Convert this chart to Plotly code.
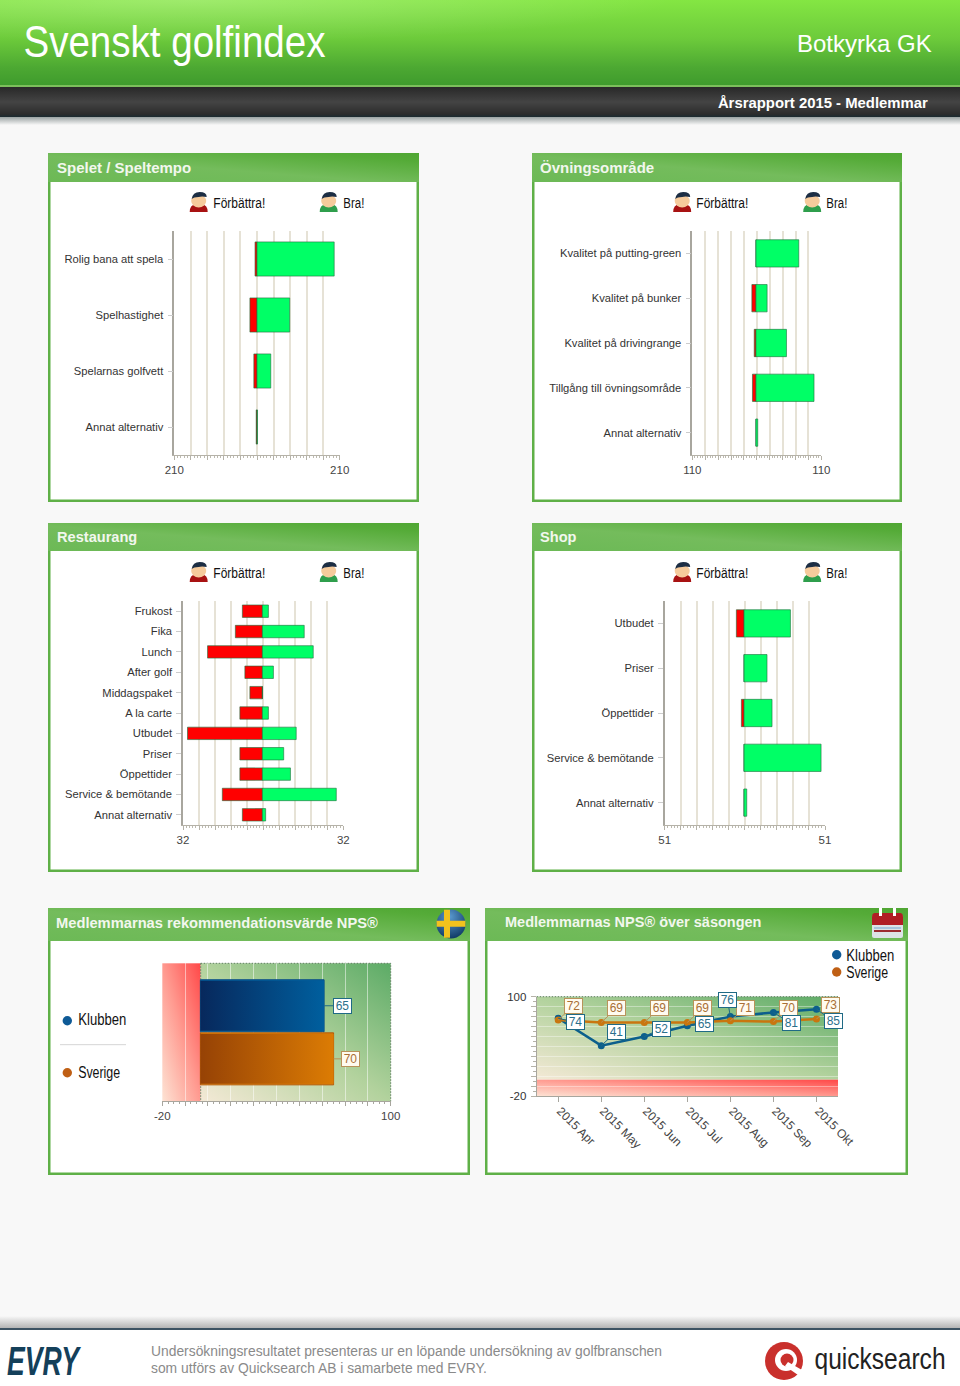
"""Svenskt golfindex, annual report page for one club."""

import base64
import json

import numpy as np
import plotly.graph_objects as go

W, H = 960, 1386

SANS = "Liberation Sans"

# Top left: Spelet / Speltempo
spel_cats = ["Rolig bana att spela", "Spelhastighet", "Spelarnas golfvett", "Annat alternativ"]
spel_bad = [5, 18, 8, 2]
spel_good = [196, 83, 35, 1]

# Top right: Övningsområde
ovning_cats = [
    "Kvalitet på putting-green",
    "Kvalitet på bunker",
    "Kvalitet på drivingrange",
    "Tillgång till övningsområde",
    "Annat alternativ",
]
ovning_bad = [0, 7, 3, 6, 0]
ovning_good = [73, 19, 52, 99, 3]

# Restaurang
rest_cats = [
    "Frukost",
    "Fika",
    "Lunch",
    "After golf",
    "Middagspaket",
    "A la carte",
    "Utbudet",
    "Priser",
    "Öppettider",
    "Service & bemötande",
    "Annat alternativ",
]
rest_bad = [8, 10.8, 21.9, 7, 5, 9, 29.9, 9, 9, 16, 8]
rest_good = [2.4, 16.7, 20.3, 4.4, 0, 2.4, 13.5, 8.5, 11.2, 29.5, 1.3]

# Shop
shop_cats = ["Utbudet", "Priser", "Öppettider", "Service & bemötande", "Annat alternativ"]
shop_bad = [4.9, 0, 1.7, 0, 0]
shop_good = [29.5, 14.6, 17.8, 49, 1.7]

# NPS
nps_names = ["Klubben", "Sverige"]
nps_values = [65, 70]

# NPS per month
months = ["2015 Apr", "2015 May", "2015 Jun", "2015 Jul", "2015 Aug", "2015 Sep", "2015 Okt"]
klubben = [74, 41, 52, 65, 76, 81, 85]
sverige = [72, 69, 69, 69, 71, 70, 73]

# Where the value boxes sit relative to their points, in pixels
klubben_offsets = [(17, 4), (15, -14), (17, -8), (17, -2), (-3, -17), (18, 11), (17, 12)]
sverige_offsets = [(15, -14), (15, -14), (15, -14), (15, -14), (15, -13), (15, -14), (14, -14)]

# The original uses a condensed face, none is installed, so these get squeezed to width
squeezed = {
    "Svenskt golfindex": 302,
    "<b>Årsrapport 2015 - Medlemmar</b>": 210,
    "Klubben": 48,
    "Sverige": 42,
    "Förbättra!": 52,
    "Bra!": 21,
    "<b><i>EVRY</i></b>": 72,
    "quicksearch": 131,
}

BLUE = "#0c5f8c"
ORANGE = "#c9760f"
BOX_BLUE = "#1f6a85"
BOX_TAN = "#b8935a"


def px(x):
    return x / W


def py(y):
    return 1 - y / H


def panel(x0, y0, x1, y1, header_bottom):
    return (
        f'<rect x="{x0}" y="{y0}" width="{x1 - x0}" height="{y1 - y0}" fill="#fff"/>'
        f'<rect x="{x0 + 1.25}" y="{y0 + 1.25}" width="{x1 - x0 - 2.5}" height="{y1 - y0 - 2.5}" '
        'fill="none" stroke="#5fb047" stroke-width="2.5"/>'
        f'<rect x="{x0}" y="{y0}" width="{x1 - x0}" height="{header_bottom - y0}" fill="url(#hdr)"/>'
    )


def person(cx, cy, shirt):
    return (
        f'<path d="M{cx - 9} {cy + 10} q0 -7 6 -8 h6 q6 1 6 8 z" fill="{shirt}"/>'
        f'<ellipse cx="{cx}" cy="{cy - 1}" rx="7.5" ry="6.5" fill="#f6cb9c"/>'
        f'<path d="M{cx - 7} {cy - 3} q1 -7 8 -7 q7 0 7 5 q-5 -1 -8 0 q-5 0 -7 2 z" fill="#1d2e44"/>'
    )


def faces(dx, dy):
    return person(198.7 + dx, 202 + dy, "#a81212") + person(328.7 + dx, 202 + dy, "#2f9e4c")


chrome = f"""<svg xmlns="http://www.w3.org/2000/svg" width="{W}" height="{H}" viewBox="0 0 {W} {H}">
<defs>
<linearGradient id="top" x1="0" y1="0" x2="0" y2="1">
<stop offset="0" stop-color="#84e643"/><stop offset=".45" stop-color="#6dcb3b"/>
<stop offset=".8" stop-color="#4ca832"/><stop offset="1" stop-color="#3f9b2d"/></linearGradient>
<radialGradient id="spot" cx=".2" cy="0" r=".5">
<stop offset="0" stop-color="#fff" stop-opacity=".22"/><stop offset="1" stop-color="#fff" stop-opacity="0"/></radialGradient>
<linearGradient id="dark" x1="0" y1="0" x2="0" y2="1">
<stop offset="0" stop-color="#282828"/><stop offset=".5" stop-color="#444"/>
<stop offset=".9" stop-color="#2c2c2c"/><stop offset="1" stop-color="#1a2a30"/></linearGradient>
<linearGradient id="shade" x1="0" y1="0" x2="0" y2="1">
<stop offset="0" stop-color="#9aa2a2"/><stop offset="1" stop-color="#f8f8f8"/></linearGradient>
<linearGradient id="foot" x1="0" y1="0" x2="0" y2="1">
<stop offset="0" stop-color="#f8f8f8"/><stop offset="1" stop-color="#b4b4b4"/></linearGradient>
<linearGradient id="hdr" x1="0" y1="1" x2="1" y2="0">
<stop offset="0" stop-color="#6cb956"/><stop offset=".45" stop-color="#74bc5c"/>
<stop offset=".85" stop-color="#55ab38"/><stop offset="1" stop-color="#4fa633"/></linearGradient>
<linearGradient id="zoneg" x1="0" y1="1" x2="1" y2="0">
<stop offset="0" stop-color="#f4e9d6"/><stop offset=".5" stop-color="#b2d29d"/><stop offset="1" stop-color="#5cab66"/></linearGradient>
<linearGradient id="zoner" x1="0" y1="1" x2="1" y2="0">
<stop offset="0" stop-color="#fde3d4"/><stop offset=".5" stop-color="#ff9a90"/><stop offset="1" stop-color="#ff4848"/></linearGradient>
<radialGradient id="ball" cx=".45" cy=".25" r=".8">
<stop offset="0" stop-color="#5a9ad0"/><stop offset="1" stop-color="#0c3560"/></radialGradient>
</defs>
<rect width="{W}" height="{H}" fill="#f8f8f8"/>
<rect width="{W}" height="85" fill="url(#top)"/><rect width="{W}" height="85" fill="url(#spot)"/>
<rect y="85" width="{W}" height="2" fill="#7cbf5c"/>
<rect y="87" width="{W}" height="30" fill="url(#dark)"/>
<rect y="117" width="{W}" height="8" fill="url(#shade)"/>
{panel(48, 153, 419, 502, 182)}{panel(532, 153, 902, 502, 182)}
{panel(48, 523, 419, 872, 551)}{panel(532, 523, 902, 872, 551)}
{panel(48, 908, 470, 1175, 941)}{panel(485, 908, 908, 1175, 941)}
{faces(0, 0)}{faces(483.5, 0)}{faces(0, 370)}{faces(483.5, 370)}
<rect x="162.3" y="963.3" width="38.4" height="138" fill="url(#zoner)"/>
<rect x="200.7" y="963.3" width="190" height="138" fill="url(#zoneg)"/>
<path d="M200.7 963.3 H390.7 V1101.3 M200.7 963.3 V1101.3" fill="none" stroke="#5f7f5f" stroke-width="1" stroke-dasharray="1.5 1.5"/>
<rect x="536.7" y="996.7" width="301.3" height="83" fill="url(#zoneg)"/>
<rect x="536.7" y="1079.7" width="301.3" height="16.6" fill="url(#zoner)"/>
<path d="M536.7 996.7 H838" fill="none" stroke="#5f7f5f" stroke-width="1" stroke-dasharray="1.5 1.5"/>
<circle cx="451" cy="924" r="14.5" fill="url(#ball)"/>
<path d="M444 909.8 h6 v11 h15.4 v6 h-15.4 v11 h-6 v-11 h-7.4 v-6 h7.4 z" fill="#f2c21e"/>
<rect x="872" y="915" width="31" height="23" rx="2" fill="#dde3e6"/>
<path d="M872 917 q0 -4 3 -4 h25 q3 0 3 4 v8 h-31 z" fill="#b01e24"/>
<rect x="879" y="908" width="3" height="8" fill="#fff"/><rect x="893" y="908" width="3" height="8" fill="#fff"/>
<rect x="874" y="927" width="27" height="2" fill="#a8c4dc"/><rect x="874" y="930" width="27" height="2" fill="#9c2a30"/>
<circle cx="67.3" cy="1020.7" r="4.7" fill="#0e5a96"/>
<circle cx="67.3" cy="1072.7" r="4.7" fill="#bf5f14"/>
<rect x="60" y="1044" width="66" height="1.2" fill="#dcdcdc"/>
<circle cx="836.7" cy="954.7" r="4.7" fill="#0e5a96"/>
<circle cx="836.7" cy="972" r="4.7" fill="#bf5f14"/>
<rect y="1316" width="{W}" height="12" fill="url(#foot)"/>
<rect y="1328" width="{W}" height="2" fill="#3c5262"/>
<rect y="1330" width="{W}" height="56" fill="#fff"/>
<circle cx="784" cy="1361" r="19" fill="#c9302c"/>
<circle cx="786" cy="1360" r="11" fill="#fff"/>
<circle cx="787" cy="1360" r="6.5" fill="#c9302c"/>
<path d="M788 1362 l14 8 l-4 5 l-13 -9 z" fill="#fff"/>
</svg>"""

fig = go.Figure()


def add_diverging(idx, cats, bad, good, limit, x_range, dom_x, dom_y):
    """Red and green bars either side of zero, with the gridded axis pair."""
    x_name = f"x{idx}"
    y_name = f"y{idx}"
    fig.add_trace(
        go.Bar(
            y=cats,
            x=[-v for v in bad],
            orientation="h",
            marker=dict(color="#ff0000", line=dict(color="rgba(30,110,60,0.6)", width=1)),
            xaxis=x_name,
            yaxis=y_name,
        )
    )
    fig.add_trace(
        go.Bar(
            y=cats,
            x=good,
            orientation="h",
            marker=dict(color="#00ff66", line=dict(color="rgba(30,110,60,0.6)", width=1)),
            xaxis=x_name,
            yaxis=y_name,
        )
    )
    ticks = np.linspace(x_range[0], x_range[1], 11).tolist()
    labels = [str(limit)] + [""] * 9 + [str(limit)]
    fig.update_layout(
        {
            f"xaxis{idx}": dict(
                domain=[px(dom_x[0]), px(dom_x[1])],
                anchor=y_name,
                range=x_range,
                tickmode="array",
                tickvals=ticks,
                ticktext=labels,
                showgrid=True,
                gridcolor="#e6e2d6",
                gridwidth=1.5,
                zeroline=False,
                showline=True,
                linecolor="#b5b2a8",
                ticks="outside",
                ticklen=4,
                tickcolor="#b5b2a8",
                tickfont=dict(family=SANS, size=11.5, color="#444"),
                minor=dict(
                    ticks="outside",
                    ticklen=2,
                    tickcolor="#bdbab0",
                    tick0=x_range[0],
                    dtick=(x_range[1] - x_range[0]) / 50,
                    showgrid=False,
                ),
                fixedrange=True,
            ),
            f"yaxis{idx}": dict(
                domain=[py(dom_y[1]), py(dom_y[0])],
                anchor=x_name,
                type="category",
                categoryorder="array",
                categoryarray=cats,
                autorange="reversed",
                showline=True,
                linecolor="#a8a69e",
                linewidth=1.5,
                showgrid=False,
                ticks="outside",
                ticklen=5,
                tickcolor="#cccccc",
                tickfont=dict(family=SANS, size=11.2, color="#333"),
                ticklabelstandoff=2,
                fixedrange=True,
            ),
        }
    )


add_diverging(1, spel_cats, spel_bad, spel_good, 210, [-210, 210], (174.3, 339.7), (231, 455))
add_diverging(2, ovning_cats, ovning_bad, ovning_good, 110, [-108.6, 111.4], (692.3, 821.3), (231, 455))
add_diverging(3, rest_cats, rest_bad, rest_good, 32, [-31.7, 32.3], (183, 343.3), (601, 825))
add_diverging(4, shop_cats, shop_bad, shop_good, 51, [-50.5, 51.5], (664.7, 825), (601, 825))

# NPS bars: a plain bar for the outline, a gradient fill of the same extent on top
nps_pos = [1, 0]
nps_colors = [("#07285c", "#005f9e", "#0b4f86"), ("#964205", "#dc7c04", "#b45a0a")]
for name, value, pos, (c0, c1, edge) in zip(nps_names, nps_values, nps_pos, nps_colors):
    fig.add_trace(
        go.Bar(
            y=[pos],
            x=[value],
            orientation="h",
            width=0.98,
            marker=dict(color=c1, line=dict(color=edge, width=1)),
            xaxis="x5",
            yaxis="y5",
        )
    )
    fig.add_trace(
        go.Scatter(
            x=[0, value, value, 0, 0],
            y=[pos - 0.47, pos - 0.47, pos + 0.47, pos + 0.47, pos - 0.47],
            mode="lines",
            line=dict(width=0),
            fill="toself",
            fillgradient=dict(type="horizontal", colorscale=[[0, c0], [1, c1]]),
            hoverinfo="skip",
            xaxis="x5",
            yaxis="y5",
        )
    )

fig.update_layout(
    xaxis5=dict(
        domain=[px(162.3), px(390.7)],
        anchor="y5",
        range=[-20, 100],
        tickmode="array",
        tickvals=np.linspace(-20, 100, 11).tolist(),
        ticktext=["-20"] + [""] * 9 + ["100"],
        showgrid=True,
        gridcolor="rgba(255,255,255,0.5)",
        zeroline=False,
        showline=True,
        linecolor="#a8a69e",
        ticks="outside",
        ticklen=4,
        tickcolor="#a8a69e",
        tickfont=dict(family=SANS, size=11.5, color="#444"),
        minor=dict(ticks="outside", ticklen=2, tickcolor="#a8a69e", tick0=-20, dtick=3, showgrid=False),
        fixedrange=True,
    ),
    yaxis5=dict(
        domain=[py(1101.3), py(963.3)],
        anchor="x5",
        range=[-0.8, 1.8],
        showgrid=False,
        zeroline=False,
        showline=False,
        showticklabels=False,
        ticks="",
        fixedrange=True,
    ),
)

# NPS per month
for values, color in [(klubben, BLUE), (sverige, ORANGE)]:
    fig.add_trace(
        go.Scatter(
            x=months,
            y=values,
            mode="lines+markers",
            line=dict(color=color, width=2.5),
            marker=dict(color=color, size=7),
            xaxis="x6",
            yaxis="y6",
        )
    )

fig.update_layout(
    xaxis6=dict(
        domain=[px(536.7), px(838)],
        anchor="y6",
        type="category",
        categoryorder="array",
        categoryarray=months,
        range=[-0.5, 6.5],
        tickangle=45,
        showgrid=False,
        zeroline=False,
        showline=True,
        linecolor="#a8a69e",
        ticks="outside",
        ticklen=5,
        tickcolor="#a8a69e",
        tickfont=dict(family=SANS, size=12, color="#444"),
        ticklabelstandoff=-3,
        ticklabelshift=2,
        fixedrange=True,
    ),
    yaxis6=dict(
        domain=[py(1096.3), py(996.7)],
        anchor="x6",
        range=[-20, 100],
        tickmode="array",
        tickvals=np.linspace(-20, 100, 11).tolist(),
        ticktext=["-20"] + [""] * 9 + ["100"],
        showgrid=True,
        gridcolor="rgba(255,255,255,0.38)",
        zeroline=False,
        showline=True,
        linecolor="#a8a69e",
        ticks="outside",
        ticklen=5,
        tickcolor="#b5b2a8",
        tickfont=dict(family=SANS, size=11.5, color="#333"),
        ticklabelstandoff=2,
        minor=dict(ticks="outside", ticklen=3, tickcolor="#b5b2a8", tick0=-20, dtick=6, showgrid=False),
        fixedrange=True,
    ),
)


def label(text, x, y, size, color="#000", anchor="left"):
    return dict(
        text=text,
        xref="paper",
        yref="paper",
        x=px(x),
        y=py(y),
        xanchor=anchor,
        yanchor="middle",
        showarrow=False,
        font=dict(family=SANS, size=size, color=color),
    )


def value_box(text, x, y, xref, yref, ax, ay, edge, fill, ink):
    return dict(
        text=str(text),
        x=x,
        y=y,
        xref=xref,
        yref=yref,
        ax=ax,
        ay=ay,
        showarrow=True,
        arrowhead=0,
        arrowwidth=1,
        arrowcolor=edge,
        standoff=0,
        width=16,
        height=13,
        bordercolor=edge,
        borderwidth=1,
        borderpad=0.5,
        bgcolor=fill,
        font=dict(family=SANS, size=12, color=ink),
    )


notes = [
    label("Svenskt golfindex", 174, 41, 44, "#ffffff", "center"),
    label("Botkyrka GK", 934, 43, 24, "#ffffff", "right"),
    label("<b>Årsrapport 2015 - Medlemmar</b>", 823, 102, 15, "#ffffff", "center"),
    label("<b>Spelet / Speltempo</b>", 55, 167, 15, "#f2f7ee"),
    label("<b>Övningsområde</b>", 538, 167, 15, "#f2f7ee"),
    label("<b>Restaurang</b>", 55, 537, 14.6, "#f2f7ee"),
    label("<b>Shop</b>", 538, 537, 14.6, "#f2f7ee"),
    label("<b>Medlemmarnas rekommendationsvärde NPS®</b>", 54, 923, 14.7, "#f2f7ee"),
    label("<b>Medlemmarnas NPS® över säsongen</b>", 503, 922, 14.5, "#f2f7ee"),
    label("Klubben", 102, 1020, 16, "#111", "center"),
    label("Sverige", 99, 1072, 16, "#111", "center"),
    label("Klubben", 870, 955, 16, "#111", "center"),
    label("Sverige", 867, 972, 16, "#111", "center"),
    label(
        "Undersökningsresultatet presenteras ur en löpande undersökning av golfbranschen",
        149, 1351, 13.85, "#8a8a8a",
    ),
    label("som utförs av Quicksearch AB i samarbete med EVRY.", 149, 1368, 13.85, "#8a8a8a"),
    label("<b><i>EVRY</i></b>", 45, 1361, 40, "#14405a", "center"),
    label("quicksearch", 879.5, 1358, 30, "#222222", "center"),
]
for dx, dy in [(0, 0), (483.5, 0), (0, 370), (483.5, 370)]:
    notes.append(label("Förbättra!", 239 + dx, 203 + dy, 14, "#111", "center"))
    notes.append(label("Bra!", 353.5 + dx, 203 + dy, 14, "#111", "center"))

notes.append(value_box(nps_values[0], nps_values[0], nps_pos[0], "x5", "y5", 18, 0, BOX_BLUE, "#ffffff", "#2b6f8c"))
notes.append(value_box(nps_values[1], nps_values[1], nps_pos[1], "x5", "y5", 17, 0, BOX_TAN, "#fffbf0", "#a96f35"))
for month, value, (ax, ay) in zip(months, sverige, sverige_offsets):
    notes.append(value_box(value, month, value, "x6", "y6", ax, ay, BOX_TAN, "#fffbf0", "#a96f35"))
for month, value, (ax, ay) in zip(months, klubben, klubben_offsets):
    notes.append(value_box(value, month, value, "x6", "y6", ax, ay, BOX_BLUE, "#ffffff", "#2b6f8c"))

fig.update_layout(
    width=W,
    height=H,
    margin=dict(l=0, r=0, t=0, b=0, autoexpand=False),
    paper_bgcolor="rgba(0,0,0,0)",
    plot_bgcolor="rgba(0,0,0,0)",
    showlegend=False,
    barmode="relative",
    bargap=0.39,
    annotations=notes,
    images=[
        dict(
            source="data:image/svg+xml;base64," + base64.b64encode(chrome.encode()).decode(),
            xref="paper",
            yref="paper",
            x=0,
            y=1,
            sizex=1,
            sizey=1,
            xanchor="left",
            yanchor="top",
            sizing="stretch",
            layer="below",
        )
    ],
)

page_fix = (
    "document.body.style.margin='0';document.body.style.overflow='hidden';"
    f"var squeezed={json.dumps(squeezed, ensure_ascii=False)};"
    "document.querySelectorAll('.annotation-text').forEach(function(t){"
    "var w=squeezed[t.getAttribute('data-unformatted')];"
    "if(w){t.setAttribute('textLength',w);t.setAttribute('lengthAdjust','spacingAndGlyphs');}});"
)

fig.write_html("out.html", config=dict(displayModeBar=False), post_script=page_fix)
